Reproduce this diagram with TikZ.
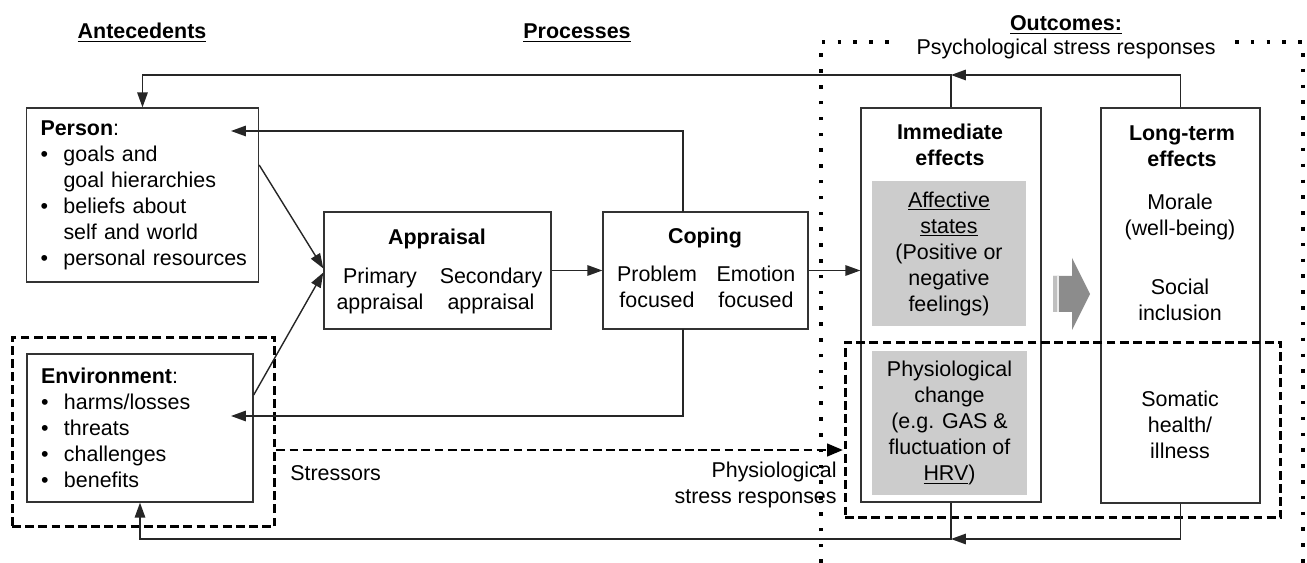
\documentclass[tikz,border=0pt]{standalone}
\usepackage{fontspec}
\setmainfont{Liberation Sans}
\usetikzlibrary{arrows.meta,calc}

\newcommand{\bul}{\makebox[0.46cm][l]{\textbullet}}
\newcommand{\ind}{\hspace*{0.46cm}}

\begin{document}
\begin{tikzpicture}[x=0.02cm,y=-0.02cm,
  every node/.style={font=\fontsize{12.2}{14.8}\selectfont},
  box/.style={draw=black!80, line width=0.8pt, inner sep=0pt},
  listbox/.style={box, align=left, inner xsep=0.28cm},
  greybox/.style={fill=black!20, inner sep=0pt, align=center},
  txt/.style={align=center, inner sep=0pt},
  head/.style={font=\fontsize{12.2}{14.8}\selectfont\bfseries, align=center, inner sep=0pt},
  arr/.style={draw=black!85, line width=0.8pt, -{Triangle[length=8.5pt,width=6pt]}},
  dashbox/.style={draw=black, line width=1.7pt, dash pattern=on 5pt off 2.5pt, inner sep=0pt},
  dasharr/.style={draw=black, line width=1.7pt, dash pattern=on 5pt off 2.5pt, -{Triangle[length=9pt,width=7pt]}},
  dots/.style={draw=black, line width=2pt, dash pattern=on 2pt off 7pt}]
\useasboundingbox (0,0) rectangle (1307,563);

% headings
\node[head] (antecedents) at (142,33) {\underline{Antecedents}};
\node[head] (processes) at (577,33) {\underline{Processes}};
\node[head] (outcomes) at (1066,25) {\underline{Outcomes:}};
\node[txt] (psych) at (1066,49) {Psychological stress responses};

% antecedents
\node[listbox, text width=4.08cm, minimum height=3.48cm] (person) at (142.5,195) {%
  \textbf{Person}:\\
  \bul goals and\\
  \ind goal hierarchies\\
  \bul beliefs about\\
  \ind self and world\\
  \bul \mbox{personal resources}};
\node[listbox, text width=3.96cm, minimum height=2.96cm] (env) at (140,428) {%
  \textbf{Environment}:\\
  \bul harms/losses\\
  \bul threats\\
  \bul challenges\\
  \bul benefits};
\node[dashbox, minimum width=5.26cm, minimum height=3.8cm] (envdash) at (143.5,432) {};

% processes
\node[box, minimum width=4.54cm, minimum height=2.34cm] (appraisal) at (437.5,270.5) {};
\node[head] (appraisalt) at (437,239) {Appraisal};
\node[txt] (primary) at (380,291) {Primary\\appraisal};
\node[txt] (secondary) at (491,291) {Secondary\\appraisal};

\node[box, minimum width=4.1cm, minimum height=2.34cm] (coping) at (705.5,270.5) {};
\node[head] (copingt) at (705,238) {Coping};
\node[txt] (problem) at (657,287) {Problem\\focused};
\node[txt] (emotion) at (756,287) {Emotion\\focused};

% outcomes
\node[box, minimum width=3.6cm, minimum height=7.88cm] (immediate) at (951,305) {};
\node[head] (immediatet) at (950,145) {Immediate\\effects};
\node[greybox, minimum width=3.08cm, minimum height=2.9cm] (affective) at (949,253.5)
  {\underline{Affective}\\\underline{states}\\(Positive or\\negative\\feelings)};
\node[greybox, minimum width=3.1cm, minimum height=2.88cm] (physio) at (949.5,423)
  {Physiological\\change\\(e.g. GAS \&\\fluctuation of\\\underline{HRV})};

\node[box, minimum width=3.18cm, minimum height=7.9cm] (longterm) at (1180.5,305.5) {};
\node[head] (longtermt) at (1182,146) {Long-term\\effects};
\node[txt] (morale) at (1180,217) {Morale\\(well-being)};
\node[txt] (social) at (1180,300) {Social\\inclusion};
\node[txt] (somatic) at (1180,425) {Somatic\\health/\\illness};

\node[dashbox, minimum width=8.72cm, minimum height=3.52cm] (physdash) at (1063,430) {};

% big grey arrow
\fill[black!45] (1053,276) -- (1072,276) -- (1072,258) -- (1090,294) -- (1072,330) -- (1072,312) -- (1053,312) -- cycle;
\fill[black!25] (1053,276) rectangle (1057,312);
\fill[black!8] (1057,276) rectangle (1058.5,312);

% dotted outcome frame
\draw[dots] (821,563) -- (821,42) -- (890,42);
\draw[dots] (1235,42) -- (1303,42) -- (1303,563);

% labels
\node[txt, anchor=west] (stressors) at (290,473) {Stressors};
\node[txt, anchor=east, align=right] (physlabel) at (837,485) {Physiological\\stress responses};

% connectors
\coordinate (topline) at (0,75);
\coordinate (botline) at (0,539);
\coordinate (pin) at (231,131);
\coordinate (ein) at (231,416);
\coordinate (copup) at (683,212);
\coordinate (copdown) at (683,329);
\coordinate (stressin) at (843,450);

\draw[arr] (immediate.north) -- (immediate.north |- topline) -| (person.north);
\draw[arr] (longterm.north) |- (immediate.north |- topline);
\draw[arr] (copup) |- (pin);
\draw[arr] (copdown) |- (ein);
\draw[arr] ($(person.east)+(0,-30)$) -- ($(appraisal.west)+(0,-2)$);
\draw[arr] ($(env.east)+(0,-33)$) -- ($(appraisal.west)+(0,2)$);
\draw[arr] (appraisal) -- (coping);
\draw[arr] (coping.east) -- (coping.east -| immediate.west);
\draw[arr] (longterm.south) |- (immediate.south |- botline);
\draw[arr] (immediate.south) -- (immediate.south |- botline) -| (env.south);
\draw[dasharr] (envdash.east |- stressin) -- (stressin);
\end{tikzpicture}
\end{document}
